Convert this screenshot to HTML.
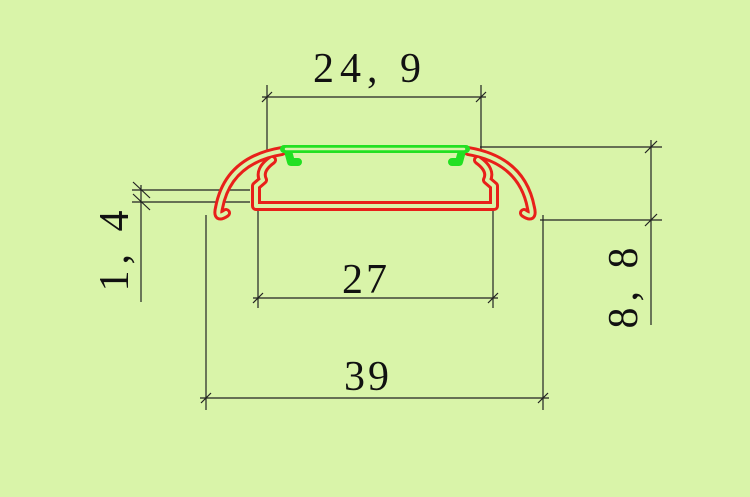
<!DOCTYPE html>
<html><head><style>
html,body{margin:0;padding:0;background:#d9f4a9;}
svg{display:block}
text{font-family:"Liberation Serif",serif;fill:#111;}
</style></head><body>
<svg width="750" height="497" viewBox="0 0 750 497">
<rect width="750" height="497" fill="#d9f4a9"/>
<g stroke="#222" stroke-width="1.2" fill="none">
<line x1="267" y1="85" x2="267" y2="160"/><line x1="481" y1="85" x2="481" y2="160"/>
<line x1="262" y1="97" x2="486" y2="97"/>
<line x1="262" y1="102" x2="272" y2="92"/><line x1="476" y1="102" x2="486" y2="92"/>
<line x1="258" y1="190" x2="258" y2="308"/><line x1="493" y1="190" x2="493" y2="308"/>
<line x1="253" y1="298" x2="498" y2="298"/>
<line x1="253" y1="303" x2="263" y2="293"/><line x1="488" y1="303" x2="498" y2="293"/>
<line x1="206" y1="215" x2="206" y2="410"/><line x1="543" y1="215" x2="543" y2="410"/>
<line x1="200" y1="398" x2="549" y2="398"/>
<line x1="201" y1="403" x2="211" y2="393"/><line x1="538" y1="403" x2="548" y2="393"/>
<line x1="132" y1="190" x2="250" y2="190"/><line x1="132" y1="202" x2="250" y2="202"/>
<line x1="141" y1="185" x2="141" y2="302"/>
<line x1="133" y1="182" x2="150" y2="198"/><line x1="133" y1="194" x2="150" y2="210"/>
<line x1="480" y1="147" x2="662" y2="147"/><line x1="540" y1="220" x2="662" y2="220"/>
<line x1="651" y1="140" x2="651" y2="325"/>
<line x1="645" y1="153" x2="657" y2="141"/><line x1="645" y1="226" x2="657" y2="214"/>
</g>
<text x="370" y="82" font-size="42" text-anchor="middle" letter-spacing="6">24, 9</text>
<text x="366" y="293" font-size="42" text-anchor="middle" letter-spacing="3">27</text>
<text x="368" y="390" font-size="42" text-anchor="middle" letter-spacing="3">39</text>
<text transform="translate(128,248) rotate(-90)" font-size="42" text-anchor="middle" letter-spacing="6">1, 4</text>
<text transform="translate(637,285) rotate(-90)" font-size="42" text-anchor="middle" letter-spacing="6">8, 8</text>
<g fill="none" stroke-linecap="round" stroke-linejoin="round">
<g stroke="#e8201a" stroke-width="10">
<path d="M282 151 Q228 160 219 208 Q216 220 226 213"/>
<path d="M468 151 Q522 160 531 208 Q534 220 524 213"/>
<path d="M272 160 Q258 170 263 180 L256 186 L256 206 L494 206 L494 186 L487 180 Q492 170 478 160"/>
</g>
<g stroke="#d9f4a9" stroke-width="4">
<path d="M282 151 Q228 160 219 208 Q216 220 226 213"/>
<path d="M468 151 Q522 160 531 208 Q534 220 524 213"/>
<path d="M272 160 Q258 170 263 180 L256 186 L256 206 L494 206 L494 186 L487 180 Q492 170 478 160"/>
</g>
<g stroke="#22e022" stroke-width="8">
<path d="M284 149 L466 149"/>
<path d="M288 151 L291 162 L298 162"/><path d="M462 151 L459 162 L452 162"/>
</g>
<g stroke="#d9f4a9" stroke-width="2.5">
<path d="M286 149 L464 149"/>
</g>
</g>
</svg>
</body></html>
